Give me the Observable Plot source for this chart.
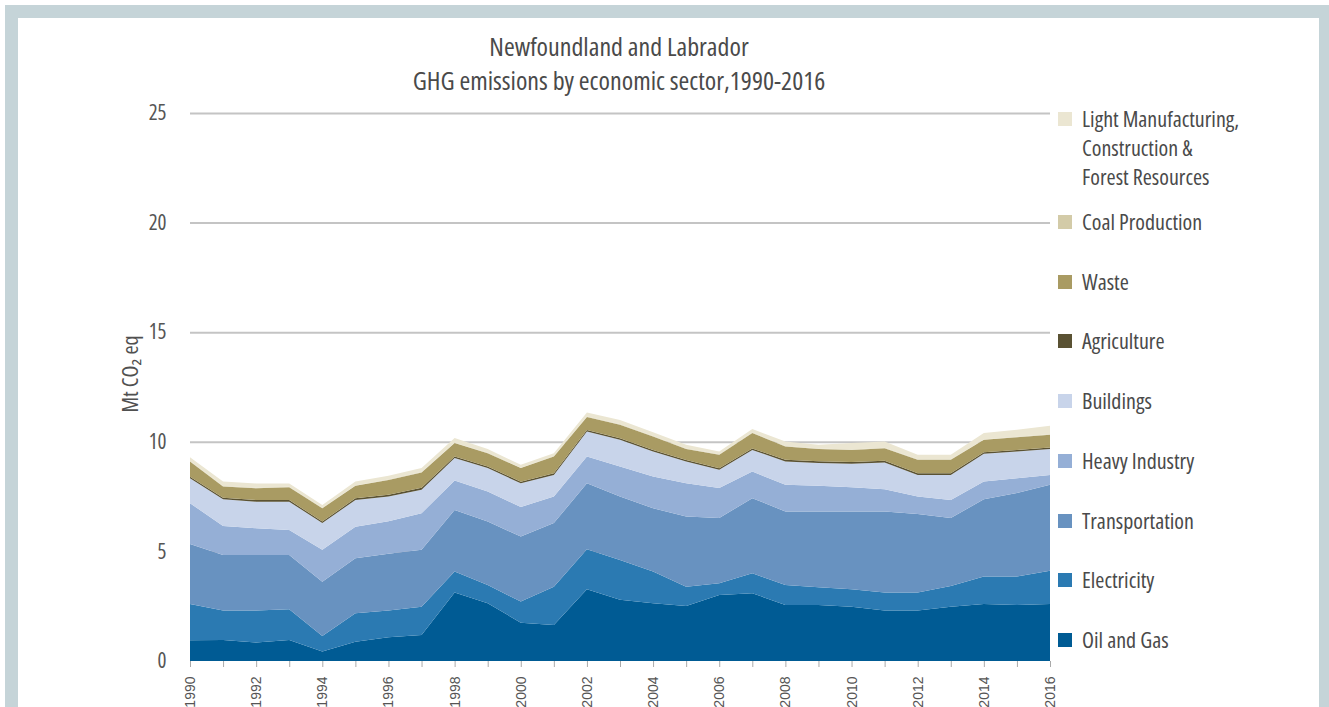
<!DOCTYPE html>
<html>
<head>
<meta charset="utf-8">
<script src="https://cdn.jsdelivr.net/npm/d3@7"></script>
<script src="https://cdn.jsdelivr.net/npm/@observablehq/plot@0.6"></script>
<style>
  html, body { margin: 0; padding: 0; background: #fff; }
  body {
    width: 1329px; height: 707px; overflow: hidden; position: relative;
    font-family: "Liberation Sans Narrow", "Open Sans", "DejaVu Sans Condensed", sans-serif;
    font-stretch: condensed; color: #505050;
  }
  #frame { position: absolute; left: 5px; top: 5px; width: 1324px; height: 702px; background: #c5d4d8; }
  #panel { position: absolute; left: 18px; top: 18px; width: 1301px; height: 689px; background: #fff; }
  .tline { position: absolute; left: 0; width: 1238px; text-align: center;
           font-size: 26px; line-height: 30px; color: #4a4a4a; }
  #chart { position: absolute; left: 0; top: 0; }
  #ylabel { position: absolute; left: 129px; top: 374px; transform: translate(-50%, -50%) rotate(-90deg);
            font-size: 22px; white-space: nowrap; color: #505050; }
  #legend { position: absolute; left: 1058px; top: 0; }
  .item { position: absolute; left: 0; display: flex; align-items: flex-start; font-size: 22px;
          line-height: 29px; color: #4a4a4a; white-space: nowrap; }
  .sw { width: 14px; height: 14px; margin-top: 8px; margin-right: 10px; flex: none; }
  g[aria-label="x-axis tick label"], g[aria-label="x-axis tick label"] text {
    font-stretch: normal; font-family: "Liberation Sans", "Open Sans", sans-serif; font-size: 14px;
  }
</style>
</head>
<body>
<div id="frame"></div>
<div id="panel"></div>
<div class="tline" style="top:31px">Newfoundland and Labrador</div>
<div class="tline" style="top:65px">GHG emissions by economic sector,1990-2016</div>
<div id="ylabel">Mt CO₂ eq</div>
<div id="chart"></div>
<div id="legend"></div>
<script>
// ---- Data (Mt CO2 eq) ----
const years = [1990,1991,1992,1993,1994,1995,1996,1997,1998,1999,2000,2001,2002,2003,2004,2005,2006,2007,2008,2009,2010,2011,2012,2013,2014,2015,2016];

const oilAndGas      = [0.95,0.96,0.84,0.96,0.43,0.88,1.08,1.19,3.12,2.63,1.75,1.64,3.27,2.79,2.63,2.51,3.01,3.09,2.56,2.56,2.48,2.30,2.30,2.48,2.60,2.56,2.60];
const electricity    = [1.65,1.34,1.46,1.40,0.71,1.30,1.22,1.29,0.96,0.84,0.96,1.75,1.83,1.82,1.45,0.88,0.54,0.91,0.91,0.80,0.79,0.82,0.82,0.94,1.25,1.29,1.52];
const transportation = [2.74,2.54,2.54,2.48,2.48,2.51,2.59,2.59,2.81,2.89,2.97,2.90,3.01,2.89,2.89,3.20,2.97,3.43,3.35,3.46,3.55,3.70,3.59,3.10,3.53,3.81,3.92];
const heavyIndustry  = [1.86,1.32,1.22,1.14,1.45,1.44,1.48,1.67,1.34,1.37,1.34,1.21,1.22,1.37,1.45,1.52,1.37,1.21,1.22,1.17,1.11,1.02,0.79,0.83,0.81,0.68,0.45];
const buildings      = [1.14,1.22,1.21,1.29,1.22,1.22,1.13,1.07,1.03,1.07,1.09,0.99,1.14,1.22,1.14,0.99,0.83,0.99,1.06,1.04,1.07,1.21,0.99,1.14,1.26,1.22,1.18];
const agriculture    = [0.07,0.07,0.07,0.07,0.07,0.07,0.08,0.09,0.07,0.07,0.07,0.07,0.07,0.07,0.07,0.07,0.07,0.07,0.08,0.08,0.08,0.08,0.08,0.08,0.07,0.07,0.07];
const waste          = [0.69,0.51,0.54,0.59,0.61,0.57,0.68,0.70,0.61,0.61,0.62,0.77,0.59,0.62,0.61,0.50,0.62,0.70,0.61,0.56,0.55,0.58,0.61,0.61,0.57,0.58,0.58];
const coalProduction = [0.02,0.02,0.02,0.02,0.02,0.02,0.02,0.02,0.02,0.02,0.02,0.02,0.02,0.02,0.02,0.02,0.02,0.02,0.02,0.02,0.02,0.02,0.02,0.02,0.02,0.02,0.02];
const lightManufacturing = [0.18,0.21,0.20,0.15,0.13,0.18,0.17,0.18,0.21,0.17,0.13,0.13,0.19,0.20,0.18,0.17,0.13,0.16,0.20,0.17,0.29,0.28,0.21,0.21,0.29,0.32,0.39];

// stacking order: bottom to top
const sectors = ["Oil and Gas","Electricity","Transportation","Heavy Industry","Buildings","Agriculture","Waste","Coal Production","Light Manufacturing, Construction & Forest Resources"];
const series  = [oilAndGas, electricity, transportation, heavyIndustry, buildings, agriculture, waste, coalProduction, lightManufacturing];
const colors  = ["#005b94","#2b7ab2","#6892c0","#95afd6","#c8d4ea","#5a5233","#a99b63","#d3cba8","#ebe6d2"];

const yTicks = [0,5,10,15,20,25];
const yGrid  = [5,10,15,20,25];

// tidy table built from the arrays
const table = [];
sectors.forEach((s, i) => years.forEach((yr, j) => table.push({year: yr, sector: s, value: series[i][j]})));

const FONT = '"Liberation Sans Narrow", "Open Sans", "DejaVu Sans Condensed", sans-serif';

const chart = Plot.plot({
  width: 1329, height: 707,
  marginLeft: 190, marginRight: 279, marginTop: 113, marginBottom: 46,
  style: {background: "transparent", fontFamily: FONT, color: "#555", overflow: "visible"},
  x: {domain: [1990, 2016]},
  y: {domain: [0, 25]},
  color: {domain: sectors, range: colors},
  marks: [
    Plot.ruleY(yGrid, {stroke: "#c4c4c4", strokeWidth: 2}),
    Plot.areaY(table, {x: "year", y: "value", z: "sector", fill: "sector", order: sectors, curve: "linear"}),
    Plot.axisX({ticks: years, tickFormat: d => d % 2 === 0 ? String(d) : "", tickRotate: -90,
                tickSize: 6, tickPadding: 9, stroke: "#aaa", fontSize: 14, label: null}),
    Plot.axisY({ticks: yTicks, tickSize: 0, tickPadding: 24, fontSize: 21, label: null})
  ]
});
document.getElementById("chart").appendChild(chart);

// legend (top of list = top of stack)
const legendTop = {"Light Manufacturing, Construction & Forest Resources": 104, "Coal Production": 207, "Waste": 267,
  "Agriculture": 326, "Buildings": 386, "Heavy Industry": 446, "Transportation": 506, "Electricity": 565, "Oil and Gas": 625};
const legendText = {"Light Manufacturing, Construction & Forest Resources": "Light Manufacturing,<br>Construction &amp;<br>Forest Resources"};
const legend = document.getElementById("legend");
sectors.slice().reverse().forEach(s => {
  const i = sectors.indexOf(s);
  const div = document.createElement("div");
  div.className = "item";
  div.style.top = legendTop[s] + "px";
  div.innerHTML = `<span class="sw" style="background:${colors[i]}"></span><span>${legendText[s] || s}</span>`;
  legend.appendChild(div);
});
</script>
</body>
</html>
